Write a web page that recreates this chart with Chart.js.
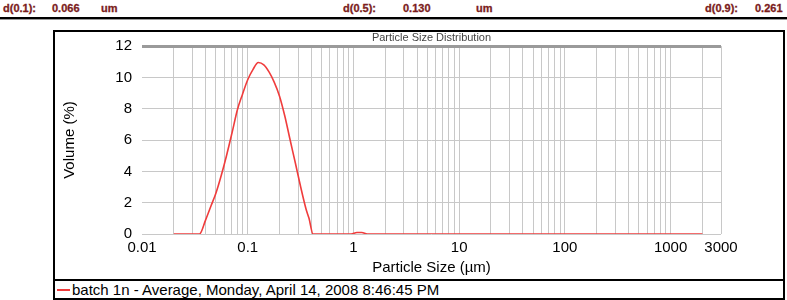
<!DOCTYPE html>
<html>
<head>
<meta charset="utf-8">
<script src="https://cdn.jsdelivr.net/npm/chart.js@4"></script>
<style>
  body { margin: 0; background: #fff; }
  #page { position: relative; width: 787px; height: 300px; overflow: hidden; font-family: "Liberation Sans", Arial, sans-serif; }
  .hd { position: absolute; top: 2px; font: bold 11px "Liberation Sans Narrow", "Arial Narrow", sans-serif; color: #7b1c1c; -webkit-text-stroke: 0.3px #7b1c1c; }
  #rule { position: absolute; left: 0; top: 17px; width: 787px; height: 2px; background: #000; border-bottom: 1px solid #999; }
  #chartBox { position: absolute; left: 53px; top: 30px; width: 732px; height: 251px; border: 2px solid #000; box-sizing: border-box; }
  #legendBox { position: absolute; left: 53px; top: 279px; width: 732px; height: 21px; border: 2px solid #000; box-sizing: border-box; }
  #legendSwatch { position: absolute; left: 2px; top: 8px; width: 13px; height: 2px; background: #f03c3c; }
  #legendText { position: absolute; left: 17px; top: 0px; font-size: 15px; line-height: 17px; color: #000; }
  canvas { position: absolute; left: 0; top: 0; }
</style>
</head>
<body>
<div id="page">
  <span class="hd" style="left:3px">d(0.1):</span>
  <span class="hd" style="left:52px">0.066</span>
  <span class="hd" style="left:101px">um</span>
  <span class="hd" style="left:343px">d(0.5):</span>
  <span class="hd" style="left:403px">0.130</span>
  <span class="hd" style="left:476px">um</span>
  <span class="hd" style="left:705px">d(0.9):</span>
  <span class="hd" style="left:755px">0.261</span>
  <div id="rule"></div>
  <div id="chartBox"></div>
  <div id="legendBox"><div id="legendSwatch"></div><div id="legendText"></div></div>
  <canvas id="psd" width="787" height="300"></canvas>
</div>
<script>
// Particle size distribution, volume % per size class
const seriesLabel = "batch 1n - Average, Monday, April 14, 2008 8:46:45 PM";
const sizes = [0.02, 0.035, 0.040, 0.045, 0.050, 0.056, 0.063, 0.071, 0.080, 0.089, 0.100, 0.112, 0.126, 0.142, 0.159, 0.178, 0.200, 0.224, 0.252, 0.283, 0.317, 0.356, 0.380, 0.415, 0.95, 1.08, 1.2, 1.35, 2000];
const volumes = [0, 0, 0.9, 1.8, 2.6, 3.7, 5.0, 6.45, 7.95, 8.9, 9.85, 10.5, 10.95, 10.8, 10.35, 9.7, 8.8, 7.55, 6.0, 4.5, 3.0, 1.6, 1.0, 0, 0, 0.1, 0.1, 0, 0];
const xTickLabels = [0.01, 0.1, 1, 10, 100, 1000, 3000];

const red = "#f03c3c";
const gridGray = "#c8c8c8";
const axisFont = { family: "Liberation Sans", size: 15 };

document.getElementById("legendText").textContent = seriesLabel;

const psdChart = new Chart(document.getElementById("psd"), {
    type: "line",
    data: {
        datasets: [{
            label: seriesLabel,
            data: sizes.map((s, i) => ({ x: s, y: volumes[i] })),
            borderColor: red,
            backgroundColor: red,
            borderWidth: 1.6,
            pointRadius: 0,
            cubicInterpolationMode: "monotone",
            fill: false
        }]
    },
    options: {
        responsive: false,
        animation: false,
        layout: { padding: { left: 56, right: 66, top: 30, bottom: 22 } },
        plugins: {
            legend: { display: false },
            tooltip: { enabled: false },
            title: {
                display: true,
                text: "Particle Size Distribution",
                fullSize: false,
                color: "#444",
                font: { family: "Liberation Sans", size: 11, weight: "normal", lineHeight: 1.1 },
                padding: { top: 2, bottom: 2 }
            }
        },
        scales: {
            x: {
                type: "logarithmic",
                min: 0.01,
                max: 3000,
                border: { display: false },
                grid: {
                    drawTicks: false,
                    color: (c) => c.tick && Math.abs(c.tick.value - 0.01) < 1e-9 ? "rgba(0,0,0,0)" : gridGray
                },
                afterBuildTicks: (scale) => {
                    scale.ticks = scale.ticks.filter(t => t.significand !== 15);
                },
                afterFit: (scale) => { scale.height = 44; },
                ticks: {
                    autoSkip: false,
                    maxRotation: 0,
                    padding: 5,
                    color: "#000",
                    font: axisFont,
                    callback: (v) => {
                        const hit = xTickLabels.find(t => Math.abs(v / t - 1) < 1e-6);
                        return hit !== undefined ? String(hit) : "";
                    }
                },
                title: {
                    display: true,
                    text: "Particle Size (\u00b5m)",
                    color: "#000",
                    font: axisFont,
                    padding: { top: 0, bottom: 1 }
                }
            },
            y: {
                min: 0,
                max: 12,
                border: { display: false },
                grid: {
                    drawTicks: false,
                    color: (c) => c.tick && c.tick.value === 12 ? "#9a9a9a" : gridGray,
                    lineWidth: (c) => c.tick && c.tick.value === 12 ? 3 : 1
                },
                afterFit: (scale) => { scale.width = 86; },
                ticks: {
                    stepSize: 2,
                    padding: 10,
                    color: "#000",
                    font: axisFont
                },
                title: {
                    display: true,
                    text: "Volume (%)",
                    color: "#000",
                    font: axisFont,
                    padding: { top: 5, bottom: 0 }
                }
            }
        }
    }
});
</script>
</body>
</html>
